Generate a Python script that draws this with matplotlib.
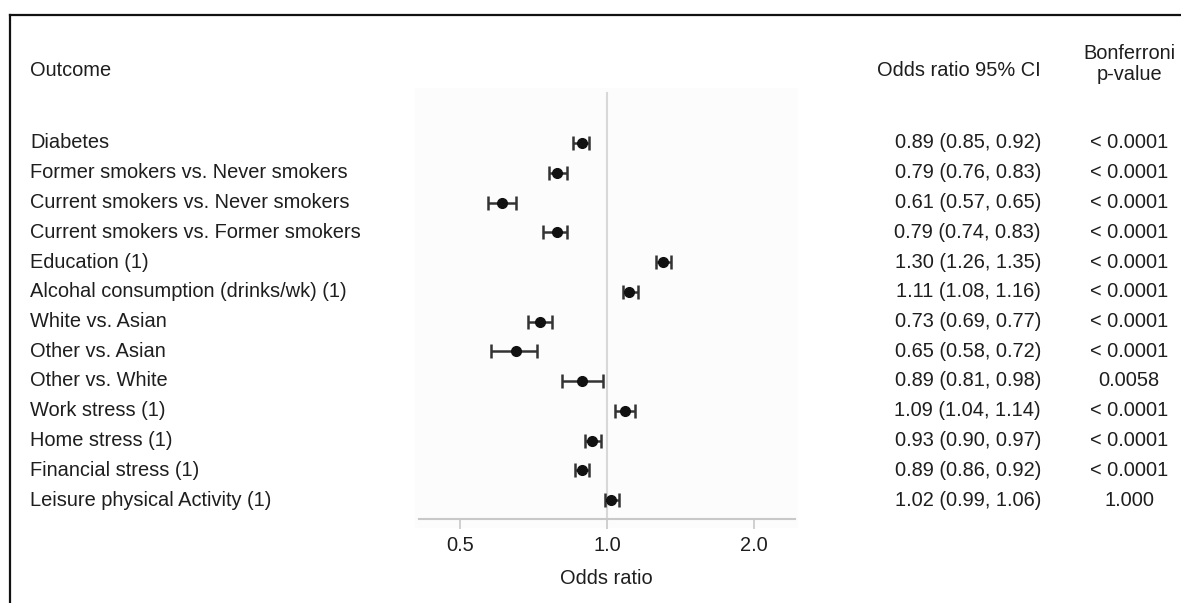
import matplotlib
matplotlib.use("Agg")
import matplotlib.pyplot as plt
import matplotlib.transforms as mtransforms
from matplotlib.lines import Line2D

plt.rcParams['font.family'] = ['Liberation Sans', 'DejaVu Sans']

outcomes = [
    "Diabetes",
    "Former smokers vs. Never smokers",
    "Current smokers vs. Never smokers",
    "Current smokers vs. Former smokers",
    "Education (1)",
    "Alcohal consumption (drinks/wk) (1)",
    "White vs. Asian",
    "Other vs. Asian",
    "Other vs. White",
    "Work stress (1)",
    "Home stress (1)",
    "Financial stress (1)",
    "Leisure physical Activity (1)",
]
odds = [0.89, 0.79, 0.61, 0.79, 1.30, 1.11, 0.73, 0.65, 0.89, 1.09, 0.93, 0.89, 1.02]
lower = [0.85, 0.76, 0.57, 0.74, 1.26, 1.08, 0.69, 0.58, 0.81, 1.04, 0.90, 0.86, 0.99]
upper = [0.92, 0.83, 0.65, 0.83, 1.35, 1.16, 0.77, 0.72, 0.98, 1.14, 0.97, 0.92, 1.06]
pvalues = ["< 0.0001"] * 8 + ["0.0058"] + ["< 0.0001"] * 3 + ["1.000"]
xticks = [0.5, 1.0, 2.0]
xticklabels = ["0.5", "1.0", "2.0"]

W, H = 1181, 603
fig = plt.figure(figsize=(W / 100, H / 100), dpi=100)

# axes in pixel coords
ax_l, ax_r, ax_t, ax_b = 415, 798, 88, 528
ax = fig.add_axes([ax_l / W, 1 - ax_b / H, (ax_r - ax_l) / W, (ax_b - ax_t) / H])
ax.set_facecolor('#fcfcfc')

row0, dy = 143, 29.75
def py2d(py):
    return (py - row0) / dy

ax.set_xscale('log')
# x mapping: 1.0 at px 607, 147 px per doubling
def px2x(px):
    return 2 ** ((px - 607) / 147)
ax.set_xlim(px2x(ax_l), px2x(ax_r))
ax.set_ylim(py2d(ax_b), py2d(ax_t))

ys = list(range(len(outcomes)))
xerr = [[o - l for o, l in zip(odds, lower)], [u - o for o, u in zip(odds, upper)]]

# reference line at 1.0
ax.plot([1.0, 1.0], [py2d(93), py2d(519)], color='#d8d8d8', lw=1.5, zorder=1)

ax.errorbar(odds, ys, xerr=xerr, fmt='o', color='#111111', ecolor='#333333',
            elinewidth=1.8, capsize=4.8, capthick=1.8, markersize=7, zorder=3)

for s in ['top', 'right', 'left']:
    ax.spines[s].set_visible(False)
ax.spines['bottom'].set_position(('axes', (ax_b - 519) / (ax_b - ax_t)))
ax.spines['bottom'].set_color('#c8c8c8')
ax.spines['bottom'].set_linewidth(1.5)
ax.spines['bottom'].set_bounds(px2x(419), px2x(795))
ax.set_yticks([])
ax.set_xticks(xticks)
ax.set_xticklabels(xticklabels)
ax.xaxis.set_minor_locator(matplotlib.ticker.NullLocator())
ax.tick_params(axis='x', length=7, width=1.2, color='#c8c8c8', pad=5,
               labelsize=14.4, labelcolor='#1e1e1e')
ax.set_xlabel("Odds ratio", fontsize=14.4, color='#1e1e1e', labelpad=10)

tr = mtransforms.blended_transform_factory(fig.transFigure, ax.transData)
fs = 14.4
tc = '#1e1e1e'
for i, (name, o, l, u, p) in enumerate(zip(outcomes, odds, lower, upper, pvalues)):
    ax.text(30 / W, i, name, transform=tr, ha='left', va='center', fontsize=fs, color=tc)
    ax.text(1041 / W, i, f"{o:.2f} ({l:.2f}, {u:.2f})", transform=tr, ha='right',
            va='center', fontsize=fs, color=tc)
    ax.text(1129 / W, i, p, transform=tr, ha='center', va='center', fontsize=fs, color=tc)

ax.text(30 / W, py2d(70), "Outcome", transform=tr, ha='left', va='center', fontsize=fs, color=tc)
ax.text(1041 / W, py2d(70), "Odds ratio 95% CI", transform=tr, ha='right', va='center',
        fontsize=fs, color=tc)
ax.text(1129 / W, py2d(64), "Bonferroni\np-value", transform=tr, ha='center', va='center',
        fontsize=fs, color=tc, linespacing=1.1)

# outer frame (left and top edges)
fig.add_artist(Line2D([10 / W, 10 / W], [0, 1 - 15 / H], transform=fig.transFigure,
                      color='#111111', lw=1.6))
fig.add_artist(Line2D([10 / W, 1], [1 - 15 / H, 1 - 15 / H], transform=fig.transFigure,
                      color='#111111', lw=1.6))

fig.savefig("out.png", dpi=100)
